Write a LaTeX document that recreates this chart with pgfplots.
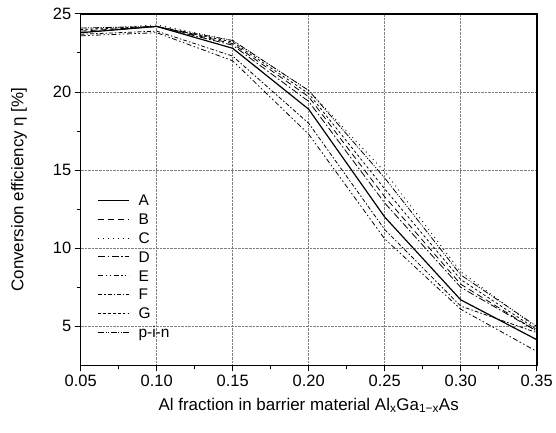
\documentclass[border=0pt]{standalone}
\usepackage{fontspec}
\setmainfont{Liberation Sans}
\usepackage{pgfplots}
\pgfplotsset{compat=1.18}
\begin{document}
\begin{tikzpicture}
\begin{axis}[
  scale only axis, width=458bp, height=353bp,
  xmin=0.05, xmax=0.35, ymin=2.5, ymax=25,
  xtick={0.05,0.10,...,0.35}, ytick={5,10,15,20,25},
  minor x tick num=1, minor y tick num=1,
  xtick pos=left, ytick pos=left, tick align=outside,
  major tick length=6bp, minor tick length=4bp,
  every tick/.style={black, line width=1bp},
  axis line style={line width=1.6bp},
  grid=major, major grid style={densely dotted, gray, line width=0.7bp},
  /pgf/number format/assume math mode=true,
  xticklabel style={/pgf/number format/.cd, fixed, fixed zerofill, precision=2},
  ticklabel style={font=\fontsize{16.5bp}{19bp}\selectfont},
  label style={font=\fontsize{17bp}{20bp}\selectfont},
  xlabel={Al fraction in barrier material Al\textsubscript{x}Ga\textsubscript{1−x}As},
  xlabel style={at={(axis description cs:0.5,-0.082)}, anchor=north},
  ylabel={Conversion efficiency η [\%]},
  ylabel style={at={(axis description cs:-0.135,0.5)}, anchor=center},
  legend style={draw=none, fill=none, at={(0.03,0.497)}, anchor=north west,
    font=\fontsize{15.5bp}{17bp}\selectfont, row sep=3.9bp, column sep=7bp,
    nodes={inner sep=2bp, text height=11bp, text depth=0bp}},
  legend cell align=left,
  legend image code/.code={\draw[#1] (0bp,0bp) -- (31bp,0bp);},
  every axis plot/.append style={black, line width=0.8bp},
]
\addplot[line width=1.2bp] coordinates {(0.05,23.8) (0.10,24.2) (0.15,22.8) (0.20,18.9) (0.25,12.0) (0.30,6.7) (0.35,4.15)};
\addplot[dash pattern=on 6bp off 4bp] coordinates {(0.05,23.9) (0.10,24.2) (0.15,23.1) (0.20,19.7) (0.25,13.3) (0.30,7.7) (0.35,4.7)};
\addplot[dash pattern=on 1bp off 4bp] coordinates {(0.05,24.0) (0.10,24.3) (0.15,23.3) (0.20,20.1) (0.25,14.9) (0.30,8.5) (0.35,4.9)};
\addplot[dash pattern=on 7bp off 2.5bp on 1.5bp off 2.5bp] coordinates {(0.05,23.8) (0.10,24.2) (0.15,23.0) (0.20,19.4) (0.25,12.9) (0.30,7.5) (0.35,4.7)};
\addplot[dash pattern=on 5bp off 2.5bp on 1.5bp off 2.5bp on 1.5bp off 2.5bp] coordinates {(0.05,23.6) (0.10,23.8) (0.15,22.0) (0.20,17.3) (0.25,10.6) (0.30,6.1) (0.35,3.4)};
\addplot[dash pattern=on 4bp off 2bp on 1.5bp off 2bp] coordinates {(0.05,23.7) (0.10,23.9) (0.15,22.3) (0.20,18.0) (0.25,11.2) (0.30,6.3) (0.35,4.6)};
\addplot[dash pattern=on 2.5bp off 2.5bp] coordinates {(0.05,24.0) (0.10,24.2) (0.15,23.2) (0.20,19.9) (0.25,13.8) (0.30,8.0) (0.35,4.8)};
\addplot[dash pattern=on 6bp off 1.5bp on 1bp off 1.5bp on 1bp off 1.5bp] coordinates {(0.05,24.1) (0.10,24.2) (0.15,23.3) (0.20,20.1) (0.25,14.5) (0.30,8.3) (0.35,5.0)};
\legend{A, B, C, D, E, F, G, p-i-n}
\end{axis}
\path (current axis.south west) ++(-81bp,-67bp) rectangle ++(556bp,434bp);
\end{tikzpicture}
\end{document}
